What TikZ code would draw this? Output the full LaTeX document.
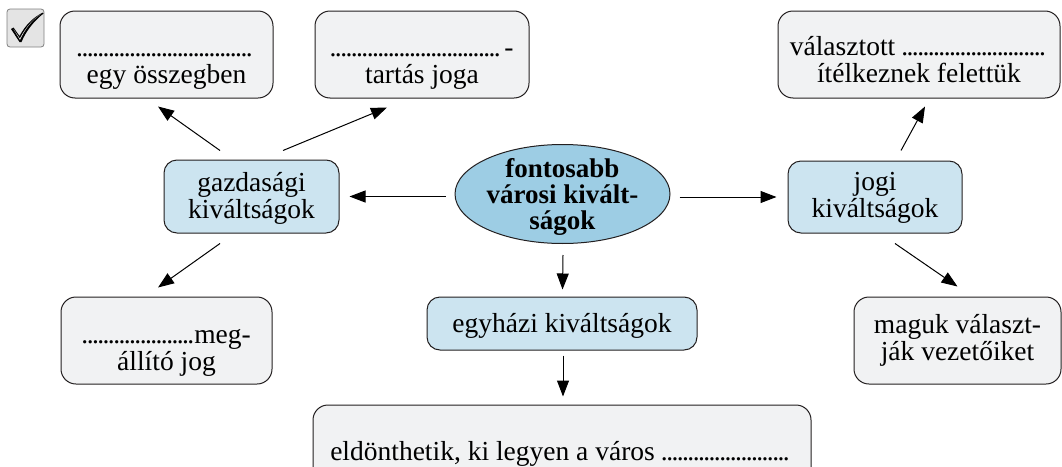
\documentclass[tikz,border=0pt]{standalone}
\usepackage{fontspec}
\setmainfont{Liberation Serif}
\newfontfamily\tms{Liberation Serif}
\usetikzlibrary{shapes.geometric,arrows.meta,calc}
\definecolor{cgray}{HTML}{F1F2F3}
\definecolor{cblue}{HTML}{CCE4F0}
\definecolor{cell}{HTML}{9DCDE4}
\definecolor{cedge}{HTML}{231F20}
\definecolor{cchk}{HTML}{E4E4E4}
\newcommand\dotline[1]{\makebox[#1pt][s]{\leaders\hbox to 5.3pt{\hss.\hss}\hfill}}
\begin{document}
\begin{tikzpicture}[x=1pt,y=-1pt,
  every node/.style={font=\tms\fontsize{27.5}{27}\selectfont, inner sep=0pt, align=center},
  gbox/.style={draw=cedge, line width=1pt, fill=cgray, rounded corners=15pt},
  bbox/.style={draw=cedge, line width=1pt, fill=cblue, rounded corners=13pt},
  arr/.style={line width=1pt, -{Triangle[length=16pt,width=12pt]}}]
\useasboundingbox (0,0) rectangle (1062,466);
\clip (0,0) rectangle (1062,466);
% check box
\draw[draw=gray, fill=cchk, line width=0.8pt, rounded corners=3pt] (7,9) rectangle (44,47);
\fill[black] (11,29) -- (13.5,27.5) -- (19.5,36) .. controls (26,24) and (34,17) .. (43,12.5)
  -- (43.5,13.5) .. controls (34,21) and (26,31) .. (21.5,42) -- (19.5,42) -- cycle;
\fill[cchk] (13.5,29) -- (19.8,38.5) .. controls (26,27) and (33,19) .. (40.5,14.5)
  .. controls (32,20) and (25,29) .. (20,40) -- cycle;
% boxes
\node[gbox, minimum width=213pt, minimum height=87pt, text height=57pt, text depth=0pt] (b1) at (166.5,54.5) {\dotline{179}\\egy összegben};
\node[gbox, minimum width=214pt, minimum height=87pt, text height=57pt, text depth=0pt] (b2) at (422,54.5) {\dotline{174}-\\tartás joga};
\node[gbox, minimum width=282pt, minimum height=87pt, text height=55pt, text depth=0pt] (b3) at (919,54.5) {választott \dotline{146}\\ítélkeznek felettük};
\node[bbox, minimum width=175pt, minimum height=73pt, text height=43pt, text depth=0pt, font=\tms\fontsize{27.5}{25}\selectfont] (gaz) at (251.5,196.5) {gazdasági\\kiváltságok};
\node[ellipse, draw=cedge, line width=1pt, fill=cell, minimum width=215pt, minimum height=91pt, text height=70pt, text depth=0pt, font=\tms\fontsize{27}{26}\selectfont\bfseries] (ell) at (562.5,194) {fontosabb\\városi kivált-\\ságok};
\node[bbox, minimum width=174pt, minimum height=72pt, text height=40pt, text depth=0pt, font=\tms\fontsize{27.5}{25}\selectfont] (jogi) at (875,197) {jogi\\kiváltságok};
\node[bbox, minimum width=270pt, minimum height=53pt, text height=17pt, text depth=0pt] (egyh) at (562,323.5) {egyházi kiváltságok};
\node[gbox, minimum width=211pt, minimum height=87pt, text height=59pt, text depth=0pt] (meg) at (166.5,340.5) {\dotline{112}meg-\\állító jog};
\node[gbox, minimum width=207pt, minimum height=87pt, text height=39pt, text depth=0pt] (mag) at (957.5,340.5) {maguk választ-\\ják vezetőiket};
\node[gbox, minimum width=498pt, minimum height=115pt, text height=20pt, text depth=25pt] (bot) at (562,462.5) {eldönthetik, ki legyen a város \dotline{132}};
% arrows
\draw[arr] ($(ell.west |- gaz.east)+(-9,0)$) -- ($(gaz.east)+(10,0)$);
\draw[arr] ($(ell.east |- jogi.west)+(9,0)$) -- ($(jogi.west)+(-11,0)$);
\draw[arr] ($(ell.south)+(0.5,11)$) -- ($(egyh.north)+(0.5,-7)$);
\draw[arr] ($(egyh.south)+(1,5)$) -- ($(bot.north)+(1,-8)$);
\draw[arr] ($(gaz.north)+(-31.5,-9)$) -- ($(b1.south)+(-8.5,8)$);
\draw[arr] ($(gaz.north)+(31.5,-9)$) -- ($(b2.south)+(-35,9)$);
\draw[arr] ($(gaz.south)+(-31.5,10)$) -- ($(meg.north)+(-8.5,-9)$);
\draw[arr] ($(jogi.north)+(26,-10)$) -- ($(b3.south)+(6,8)$);
\draw[arr] ($(jogi.south)+(20,10)$) -- ($(mag.north)+(0,-10)$);
\end{tikzpicture}
\end{document}
